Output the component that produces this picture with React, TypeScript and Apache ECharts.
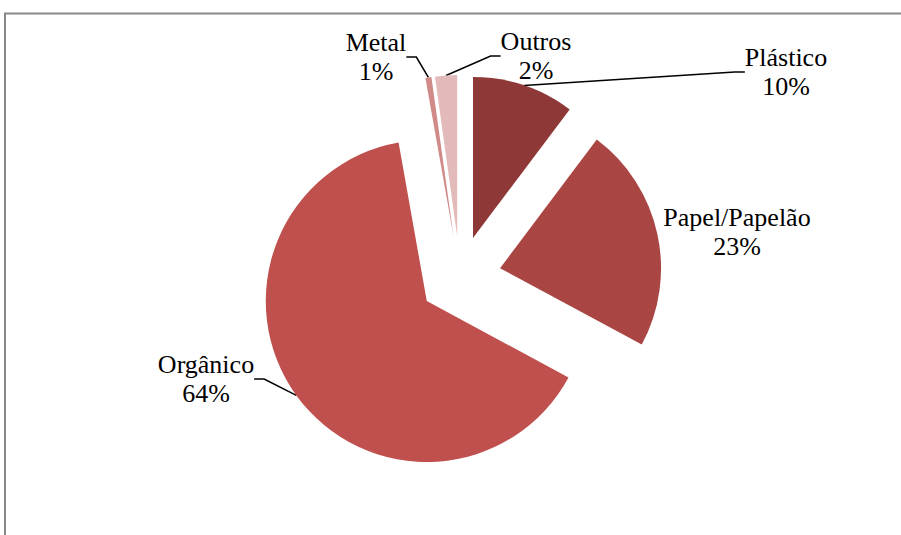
import React, { useEffect, useRef } from "react";
import * as echarts from "echarts";

const categories = ["Plástico", "Papel/Papelão", "Orgânico", "Metal", "Outros"];
const shares = [10.25, 22.6, 64.3, 0.6, 2.2];
const sliceColors = ["#8E3937", "#A94644", "#C0504D", "#D08A88", "#E2BAB9"];
// label text centres (layout only)
const labelCentres: [number, number][] = [
  [786, 72],
  [737, 232],
  [206, 379],
  [376, 57],
  [536, 56],
];
const showLeader = [true, false, true, true, true];

const PIE_CX = 460;
const PIE_CY = 277;
const PIE_R = 161;
const EXPLODE = 41;

export default function App() {
  const ref = useRef<HTMLDivElement>(null);
  useEffect(() => {
    if (!ref.current) return;
    const chart = echarts.init(ref.current, undefined, { renderer: "svg" });
    const font = "'Liberation Serif', 'Times New Roman', serif";
    const total = shares.reduce((a, b) => a + b, 0);
    let cum = 0;
    const midAngles = shares.map((v) => {
      const mid = ((cum + v / 2) / total) * 2 * Math.PI;
      cum += v;
      return mid;
    });

    const series = categories.map((_, si) => ({
      type: "pie",
      center: [
        PIE_CX + EXPLODE * Math.sin(midAngles[si]),
        PIE_CY - EXPLODE * Math.cos(midAngles[si]),
      ],
      radius: [0, PIE_R],
      startAngle: 90,
      clockwise: true,
      avoidLabelOverlap: false,
      silent: true,
      emphasis: { disabled: true },
      itemStyle: { borderWidth: 0 },
      label: {
        show: false,
        position: "outside",
        color: "#000000",
        fontFamily: font,
        fontSize: 26,
        lineHeight: 29,
        align: "center",
        formatter: (p: any) => `${p.name}\n${Math.round(p.percent)}%`,
      },
      labelLine: {
        show: false,
        length: 10,
        length2: 10,
        smooth: false,
        lineStyle: { color: "#000000", width: 1.5 },
      },
      labelLayout: (params: any) => {
        if (params.dataIndex !== si) return {};
        const c = labelCentres[si];
        return { x: c[0], y: c[1], align: "center", verticalAlign: "middle" };
      },
      data: categories.map((name, i) => ({
        name,
        value: shares[i],
        itemStyle: { color: i === si ? sliceColors[i] : "rgba(0,0,0,0)" },
        label: { show: i === si },
        labelLine: { show: i === si && showLeader[i] },
      })),
    }));

    chart.setOption({
      animation: false,
      backgroundColor: "#ffffff",
      graphic: [
        {
          type: "rect",
          shape: { x: 5, y: 13.5, width: 1000, height: 1000 },
          style: { fill: "none", stroke: "#888888", lineWidth: 2 },
          silent: true,
        },
      ],
      series,
    });
    return () => chart.dispose();
  }, []);
  return (
    <div
      ref={ref}
      style={{
        position: "absolute",
        left: 0,
        top: 0,
        width: 901,
        height: 535,
        background: "#ffffff",
      }}
    />
  );
}
